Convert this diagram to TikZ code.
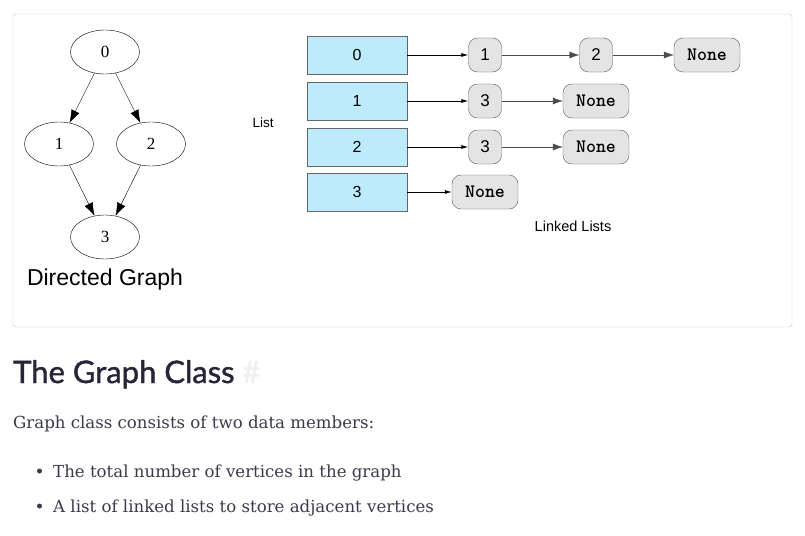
\documentclass[tikz,border=0pt]{standalone}
\usepackage{fontspec}
\setmainfont{Liberation Serif}
\newfontfamily\helv{Liberation Sans}
\newfontfamily\headfont[FakeBold=1.3]{Lato}
\newfontfamily\bodyfont{DejaVu Serif}
\usetikzlibrary{shapes.geometric,arrows.meta}
\definecolor{listblue}{HTML}{BDEBFB}
\definecolor{cellgray}{HTML}{E4E4E4}
\definecolor{inkdark}{HTML}{262638}
\definecolor{inkbody}{HTML}{3A3A4C}
\tikzset{
  vert/.style={draw,ellipse,minimum width=69pt,minimum height=44pt,inner sep=0pt,font=\fontsize{17}{17}\selectfont},
  gedge/.style={-{Latex[length=13pt,width=9pt]},thin},
  listbox/.style={draw=gray!80!black,fill=listblue,minimum width=100pt,minimum height=38pt,inner sep=0pt,font=\helv\fontsize{16}{16}\selectfont},
  cell/.style={draw=gray!70!black,fill=cellgray,rounded corners=9pt,minimum width=33pt,minimum height=34pt,inner sep=0pt,font=\helv\fontsize{17}{17}\selectfont},
  nonecell/.style={cell,minimum width=66pt,font=\ttfamily\bfseries\fontsize{19}{19}\selectfont},
  headptr/.style={-{Latex[length=7pt,width=4pt]},thick},
  nextptr/.style={-{Latex[length=10pt,width=7pt]},gray!60!black},
}
\begin{document}
\begin{tikzpicture}[x=1pt,y=-1pt]
\useasboundingbox (0,0) rectangle (805,535);
\draw[gray!45,rounded corners=3pt] (13,14) rectangle (792,327);
% directed graph
\node[vert] (g0) at (105,52) {0};
\node[vert] (g1) at (59,144) {1};
\node[vert] (g2) at (151,144) {2};
\node[vert] (g3) at (105,237) {3};
\draw[gedge] (g0) -- (g1);
\draw[gedge] (g0) -- (g2);
\draw[gedge] (g1) -- (g3);
\draw[gedge] (g2) -- (g3);
\node[anchor=base,inner sep=0pt,font=\helv\fontsize{23}{23}\selectfont] (gcap) at (105,285) {Directed Graph};
% list of linked lists
\node[font=\helv\fontsize{13.5}{13.5}\selectfont] (ltitle) at (263,123) {List};
\node[listbox] (l0) at (357,55) {0};
\node[listbox] (l1) at (357,101) {1};
\node[listbox] (l2) at (357,147) {2};
\node[listbox] (l3) at (357,192) {3};
\node[cell] (a1) at (485,55) {1};
\node[cell] (a2) at (596,55) {2};
\node[nonecell] (a3) at (707,55) {None};
\node[cell] (b1) at (485,101) {3};
\node[nonecell] (b2) at (596,101) {None};
\node[cell] (c1) at (485,147) {3};
\node[nonecell] (c2) at (596,147) {None};
\node[nonecell] (d1) at (485,192) {None};
\draw[headptr] (l0) -- (a1);
\draw[headptr] (l1) -- (b1);
\draw[headptr] (l2) -- (c1);
\draw[headptr] (l3) -- (d1);
\draw[nextptr] (a1) -- (a2);
\draw[nextptr] (a2) -- (a3);
\draw[nextptr] (b1) -- (b2);
\draw[nextptr] (c1) -- (c2);
\node[font=\helv\fontsize{14.5}{14.5}\selectfont] (lcap) at (573,226) {Linked Lists};
% text below
\node[anchor=base west,inner sep=0pt,text=inkdark,font=\headfont\fontsize{31}{31}\selectfont] (head) at (13,383) {The Graph Class \textcolor{gray!12}{\#}};
\node[anchor=base west,inner sep=0pt,text=inkbody,font=\bodyfont\fontsize{16.6}{16.6}\selectfont] (intro) at (13,428) {Graph class consists of two data members:};
\node[anchor=base west,inner sep=0pt,text=inkbody,font=\bodyfont\fontsize{16.6}{16.6}\selectfont] (item1) at (53,477) {The total number of vertices in the graph};
\node[anchor=base west,inner sep=0pt,text=inkbody,font=\bodyfont\fontsize{16.6}{16.6}\selectfont] (item2) at (53,512) {A list of linked lists to store adjacent vertices};
\fill[inkbody] (39.5,471) circle (2.5pt);
\fill[inkbody] (39.5,506) circle (2.5pt);
\end{tikzpicture}
\end{document}
